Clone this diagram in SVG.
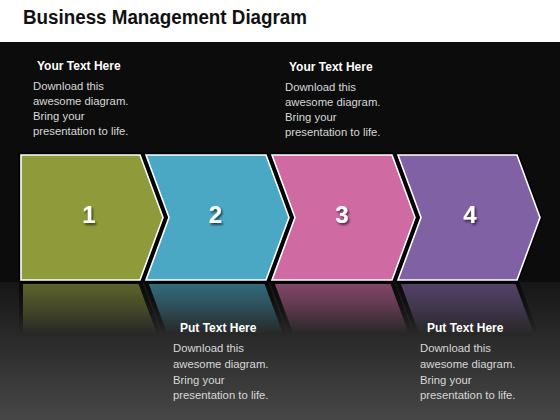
<svg xmlns="http://www.w3.org/2000/svg" width="560" height="420" viewBox="0 0 560 420">
<style>
.title{font-family:"Liberation Sans",Arial,sans-serif;font-weight:bold;font-size:20px;fill:#111}
.head{font-family:"Liberation Sans",Arial,sans-serif;font-weight:bold;font-size:12px;fill:#ffffff}
.body{font-family:"Liberation Sans",Arial,sans-serif;font-size:11.3px;fill:#d8d8d8}
.num{font-family:"Liberation Sans",Arial,sans-serif;font-weight:bold;font-size:24px;fill:#ffffff;text-anchor:middle;filter:url(#sh)}
.shape{stroke:#ffffff;stroke-width:1.6;stroke-linejoin:miter}
.outline{fill:none;stroke:#000;stroke-width:5}
.refl{stroke:#000;stroke-width:4}
</style>
<defs>
<filter id="sh" x="-50%" y="-50%" width="200%" height="200%">
<feDropShadow dx="1.5" dy="2" stdDeviation="1" flood-color="#000" flood-opacity="0.6"/>
</filter>
<linearGradient id="floor" x1="0" y1="0" x2="0" y2="1">
<stop offset="0" stop-color="#161616"/>
<stop offset="1" stop-color="#474747"/>
</linearGradient>
<linearGradient id="fade" gradientUnits="userSpaceOnUse" x1="0" y1="282" x2="0" y2="334">
<stop offset="0" stop-color="#fff" stop-opacity="0.6"/>
<stop offset="0.5" stop-color="#fff" stop-opacity="0.35"/>
<stop offset="1" stop-color="#fff" stop-opacity="0"/>
</linearGradient>
<mask id="refmask" maskUnits="userSpaceOnUse" x="0" y="280" width="560" height="60">
<rect x="0" y="280" width="560" height="60" fill="url(#fade)"/>
</mask>
<path id="p1" d="M21,155 L140,155 L163,217.5 L140,280 L21,280 Z"/>
<path id="p2" d="M146,155 L266,155 L289,217.5 L266,280 L146,280 L169,217.5 Z"/>
<path id="p3" d="M272,155 L392,155 L415,217.5 L392,280 L272,280 L295,217.5 Z"/>
<path id="p4" d="M398,155 L517,155 L540,217.5 L517,280 L398,280 L421,217.5 Z"/>
</defs>
<rect x="0" y="0" width="560" height="42" fill="#ffffff"/>
<rect x="0" y="42" width="560" height="240" fill="#0c0c0c"/>
<rect x="0" y="282" width="560" height="138" fill="url(#floor)"/>
<text class="title" x="23" y="24" textLength="284" lengthAdjust="spacingAndGlyphs">Business Management Diagram</text>

<g id="reflection" mask="url(#refmask)">
<g transform="translate(0,562) scale(1,-1)">
<use href="#p1" fill="#8f9a3a" class="refl"/>
<use href="#p2" fill="#4aa8c4" class="refl"/>
<use href="#p3" fill="#d06aa2" class="refl"/>
<use href="#p4" fill="#8062a4" class="refl"/>
</g>
</g>

<g id="connectors"></g>

<g id="step1">
<use href="#p1" class="outline"/>
<use href="#p1" class="shape" fill="#8f9a3a"/>
<text class="num" x="89" y="223">1</text>
</g>
<g id="step2">
<use href="#p2" class="outline"/>
<use href="#p2" class="shape" fill="#4aa8c4"/>
<text class="num" x="215.5" y="223">2</text>
</g>
<g id="step3">
<use href="#p3" class="outline"/>
<use href="#p3" class="shape" fill="#d06aa2"/>
<text class="num" x="342" y="223">3</text>
</g>
<g id="step4">
<use href="#p4" class="outline"/>
<use href="#p4" class="shape" fill="#8062a4"/>
<text class="num" x="470" y="223">4</text>
</g>

<g id="text1">
<text class="head" x="37" y="70">Your Text Here</text>
<text class="body" x="33" y="90">Download this</text>
<text class="body" x="33" y="105">awesome diagram.</text>
<text class="body" x="33" y="120">Bring your</text>
<text class="body" x="33" y="135">presentation to life.</text>
</g>
<g id="text3">
<text class="head" x="289" y="71">Your Text Here</text>
<text class="body" x="285" y="91">Download this</text>
<text class="body" x="285" y="106">awesome diagram.</text>
<text class="body" x="285" y="121">Bring your</text>
<text class="body" x="285" y="136">presentation to life.</text>
</g>
<g id="text2">
<text class="head" x="180" y="332">Put Text Here</text>
<text class="body" x="173" y="352">Download this</text>
<text class="body" x="173" y="368">awesome diagram.</text>
<text class="body" x="173" y="384">Bring your</text>
<text class="body" x="173" y="399">presentation to life.</text>
</g>
<g id="text4">
<text class="head" x="427" y="332">Put Text Here</text>
<text class="body" x="420" y="352">Download this</text>
<text class="body" x="420" y="368">awesome diagram.</text>
<text class="body" x="420" y="384">Bring your</text>
<text class="body" x="420" y="399">presentation to life.</text>
</g>
</svg>
